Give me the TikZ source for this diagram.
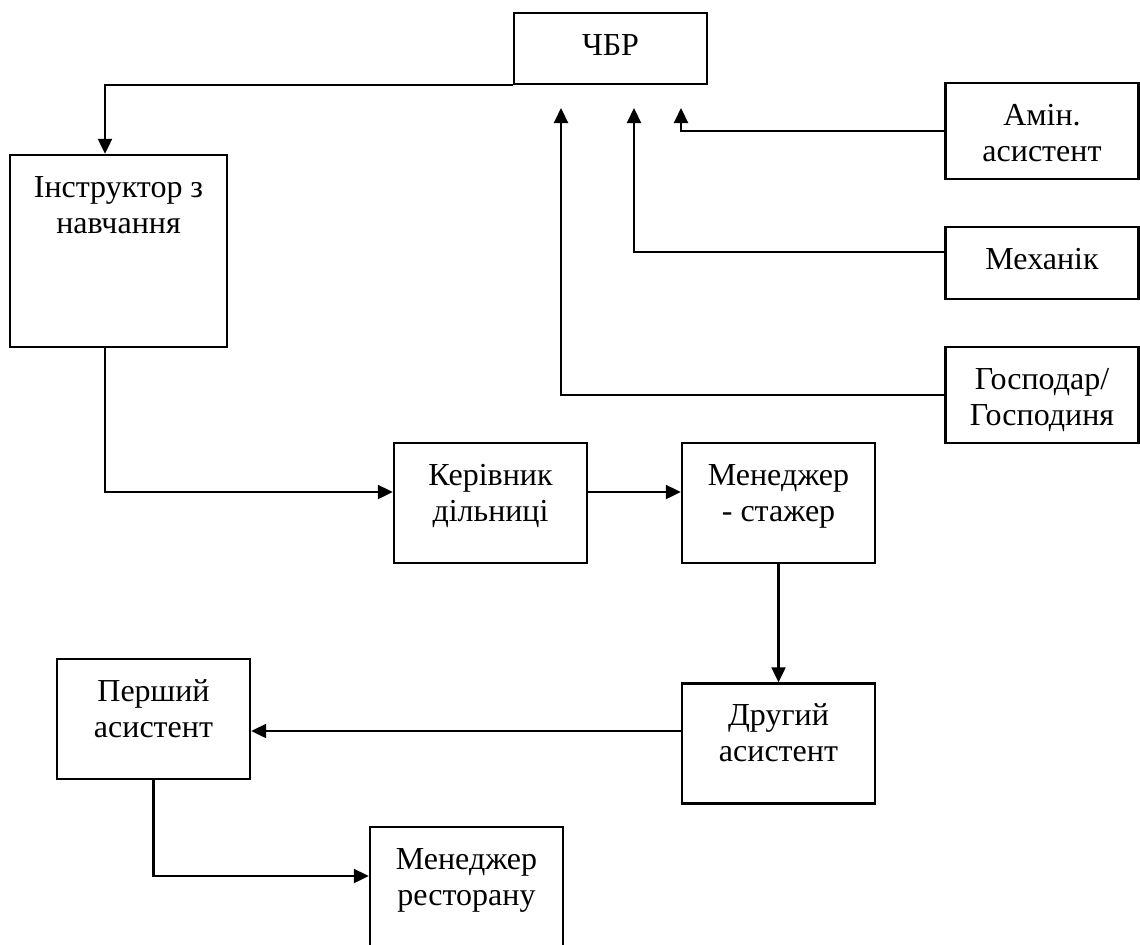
\documentclass[tikz,border=0pt]{standalone}
\usepackage{fontspec}
\setmainfont{Liberation Serif}
\usetikzlibrary{arrows.meta}
\newcommand{\boxtext}[2]{\parbox[c][#1][t]{94pt}{\centering\rule{0pt}{21pt}#2}}

\begin{document}
\begin{tikzpicture}[x=0.5pt, y=-0.5pt,
  post/.style={draw, line width=1.2pt, inner sep=0pt, minimum width=96.5pt, font=\fontsize{16}{18}\selectfont},
  arr/.style={-{Triangle[length=7.5pt,width=7pt]}, line width=1.1pt}]
\useasboundingbox (0,0) rectangle (1140,944);
\node[post] (chbr) at (610.5,48.5) {\boxtext{35.5pt}{ЧБР}};
\node[post, minimum width=108.5pt] (instr) at (118.5,251) {\boxtext{96pt}{Інструктор з\\навчання}};
\node[post] (amin) at (1042,131) {\boxtext{48pt}{Амін.\\асистент}};
\node[post] (mech) at (1042,263) {\boxtext{36pt}{Механік}};
\node[post] (gosp) at (1042,395) {\boxtext{48pt}{Господар/\\Господиня}};
\node[post] (keriv) at (490.5,503) {\boxtext{60pt}{Керівник\\дільниці}};
\node[post] (mstazh) at (778.5,503) {\boxtext{60pt}{Менеджер\\- стажер}};
\node[post] (druhyi) at (778.5,743.5) {\boxtext{60pt}{Другий\\асистент}};
\node[post] (pershyi) at (153.5,719) {\boxtext{60pt}{Перший\\асистент}};
\node[post] (restor) at (466.5,887) {\boxtext{60pt}{Менеджер\\ресторану}};
% free ends under ЧБР
\coordinate (t1) at (561,108);
\coordinate (t2) at (634,108);
\coordinate (t3) at (681,108);
\draw[arr] (chbr.south west) -| ([xshift=-6.75pt]instr.north);
\draw[arr] (gosp.west) -| (t1);
\draw[arr] ([yshift=5.5pt]mech.west) -| (t2);
\draw[arr] (amin.west) -| (t3);
\draw[arr] ([xshift=-6.75pt]instr.south) |- ([yshift=5.5pt]keriv.west);
\draw[arr] ([yshift=5.5pt]keriv.east) -- ([yshift=5.5pt]mstazh.west);
\draw[arr] (mstazh.south) -- (druhyi.north);
\draw[arr] ([yshift=6.25pt]druhyi.west) -- ([yshift=6.25pt]druhyi.west -| pershyi.east);
\draw[arr] (pershyi.south) |- ([yshift=5.5pt]restor.west);
\end{tikzpicture}
\end{document}
